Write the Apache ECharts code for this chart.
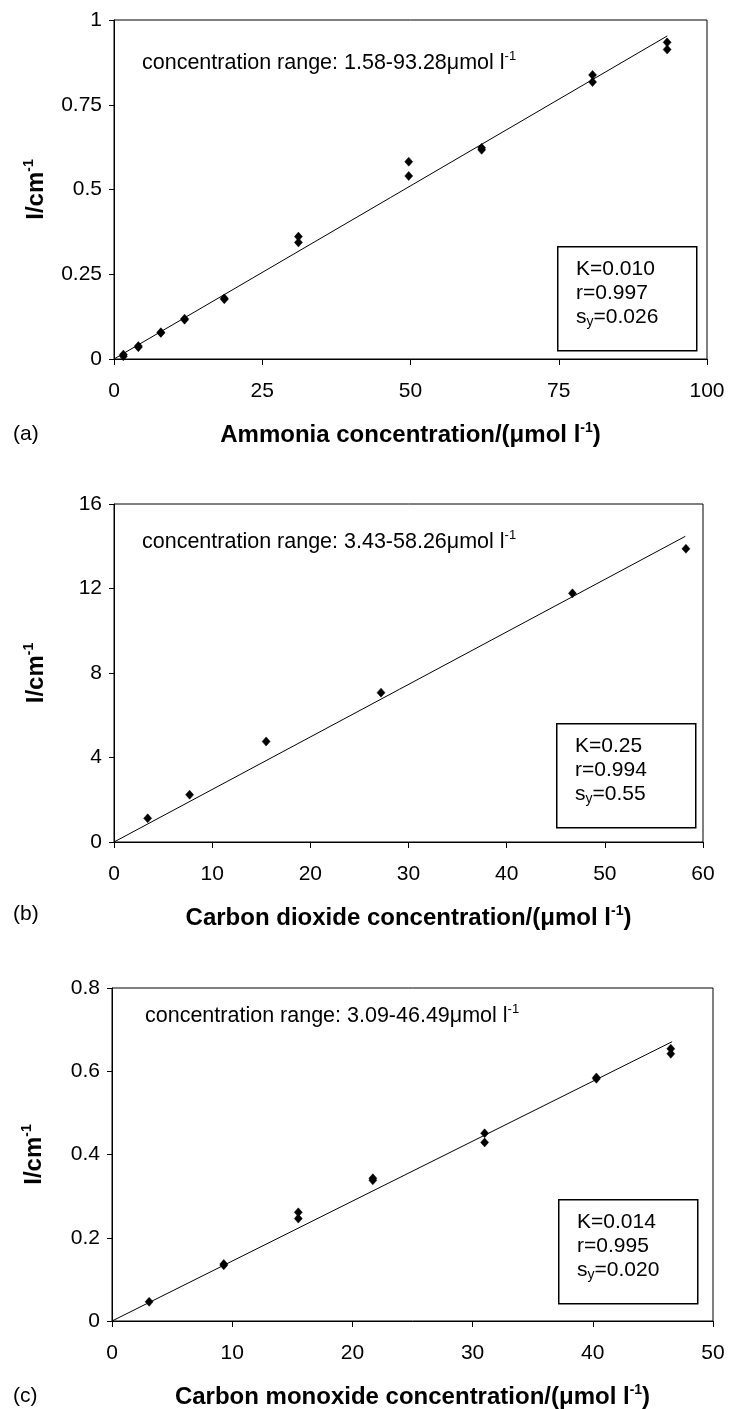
<!DOCTYPE html>
<html><head><meta charset="utf-8">
<script src="https://cdn.jsdelivr.net/npm/echarts/dist/echarts.min.js"></script>
<style>html,body{margin:0;padding:0;background:#fff}#c{width:729px;height:1409px}</style>
</head><body><div id="c"></div>
<script>
// ---------- data ----------
// (a) Ammonia
var ammoniaX = [1.58, 1.58, 4.1, 4.1, 7.9, 7.9, 11.9, 11.9, 18.6, 18.6, 31.1, 31.1, 49.7, 49.7, 62.0, 62.0, 80.7, 80.7, 93.28, 93.28];
var ammoniaY = [0.008, 0.013, 0.035, 0.038, 0.077, 0.079, 0.116, 0.119, 0.176, 0.179, 0.344, 0.361, 0.540, 0.582, 0.617, 0.623, 0.817, 0.838, 0.913, 0.934];
var ammoniaFitX = [0, 93.3];
var ammoniaFitY = [0, 0.953];
// (b) Carbon dioxide
var co2X = [3.43, 7.7, 15.5, 27.2, 46.7, 58.26];
var co2Y = [1.12, 2.24, 4.76, 7.07, 11.77, 13.88];
var co2FitX = [0, 58.2];
var co2FitY = [0, 14.47];
// (c) Carbon monoxide
var coX = [3.09, 9.3, 9.3, 15.5, 15.5, 21.7, 21.7, 31.0, 31.0, 40.3, 40.3, 46.49, 46.49];
var coY = [0.046, 0.134, 0.137, 0.246, 0.261, 0.338, 0.343, 0.429, 0.451, 0.582, 0.585, 0.642, 0.654];
var coFitX = [0, 46.6];
var coFitY = [0, 0.671];

// axis ranges / ticks
var xRanges = [[0, 100, 25], [0, 60, 10], [0, 50, 10]];
var yRanges = [[0, 1, 0.25], [0, 16, 4], [0, 0.8, 0.2]];

// texts
var panelLetters = ['(a)', '(b)', '(c)'];
var xNames = ['Ammonia concentration/(\u03bcmol l', 'Carbon dioxide concentration/(\u03bcmol l', 'Carbon monoxide concentration/(\u03bcmol l'];
var rangeTexts = ['concentration range: 1.58-93.28\u03bcmol l', 'concentration range: 3.43-58.26\u03bcmol l', 'concentration range: 3.09-46.49\u03bcmol l'];
var kTexts = ['K=0.010', 'K=0.25', 'K=0.014'];
var rTexts = ['r=0.997', 'r=0.994', 'r=0.995'];
var sTexts = ['=0.026', '=0.55', '=0.020'];

// ---------- build ----------
var FONT = '"Liberation Sans", Arial, Helvetica, sans-serif';
var grids = [
  {left: 114, top: 20, width: 593, height: 339},
  {left: 114, top: 504, width: 589, height: 338},
  {left: 112, top: 988, width: 601, height: 333}
];
var boxes = [
  {x: 557, y: 246, w: 139, h: 104},
  {x: 556, y: 723, w: 139, h: 104},
  {x: 558, y: 1199, w: 139, h: 104}
];
var rangePos = [[142, 63], [142, 542], [145, 1016]];

function zip(a, b) { return a.map(function (v, i) { return [v, b[i]]; }); }
function fmt(v) { return String(+v.toFixed(2)); }

var scatterSets = [zip(ammoniaX, ammoniaY), zip(co2X, co2Y), zip(coX, coY)];
var fitSets = [zip(ammoniaFitX, ammoniaFitY), zip(co2FitX, co2FitY), zip(coFitX, coFitY)];

var xAxes = [], yAxes = [], series = [], graphics = [];
for (var i = 0; i < 3; i++) {
  grids[i].show = true;
  grids[i].borderColor = '#000';
  grids[i].borderWidth = 1;
  grids[i].containLabel = false;
  grids[i].outerBoundsMode = 'none';
  xAxes.push({
    type: 'value', gridIndex: i,
    min: xRanges[i][0], max: xRanges[i][1], interval: xRanges[i][2],
    splitLine: {show: false},
    axisLine: {show: true, onZero: false, lineStyle: {color: '#000', width: 1}},
    axisTick: {show: true, length: 6, inside: false, lineStyle: {color: '#000'}},
    axisLabel: {color: '#000', fontSize: 21, fontFamily: FONT, margin: 22, formatter: fmt, showMinLabel: true, showMaxLabel: true},
    name: '{b|' + xNames[i] + '}{sup|-1}{b|)}',
    nameLocation: 'middle', nameGap: 62,
    nameTextStyle: {
      rich: {
        b: {fontSize: 24, fontWeight: 'bold', fontFamily: FONT, color: '#000', lineHeight: 28},
        sup: {fontSize: 14, fontWeight: 'bold', fontFamily: FONT, color: '#000', verticalAlign: 'top', lineHeight: 14}
      }
    }
  });
  yAxes.push({
    type: 'value', gridIndex: i,
    min: yRanges[i][0], max: yRanges[i][1], interval: yRanges[i][2],
    splitLine: {show: false},
    axisLine: {show: true, onZero: false, lineStyle: {color: '#000', width: 1}},
    axisTick: {show: true, length: 5, inside: false, lineStyle: {color: '#000'}},
    axisLabel: {color: '#000', fontSize: 21, fontFamily: FONT, margin: 12, formatter: fmt, showMinLabel: true, showMaxLabel: true},
    name: '{b|I/cm}{sup|-1}',
    nameLocation: 'middle', nameRotate: 90, nameGap: 64,
    nameTextStyle: {
      rich: {
        b: {fontSize: 24, fontWeight: 'bold', fontFamily: FONT, color: '#000', lineHeight: 28},
        sup: {fontSize: 14, fontWeight: 'bold', fontFamily: FONT, color: '#000', verticalAlign: 'top', lineHeight: 14}
      }
    }
  });
  series.push({
    type: 'line', xAxisIndex: i, yAxisIndex: i, data: fitSets[i],
    showSymbol: false, symbol: 'none', silent: true,
    lineStyle: {color: '#000', width: 1}, z: 2
  });
  series.push({
    type: 'scatter', xAxisIndex: i, yAxisIndex: i, data: scatterSets[i],
    symbol: 'diamond', symbolSize: [8, 9],
    itemStyle: {color: '#000', borderColor: '#000', borderWidth: 0.5, opacity: 1}, z: 3
  });
  // annotations
  graphics.push({
    type: 'text', left: rangePos[i][0], top: rangePos[i][1] - 13,
    style: {
      text: '{n|' + rangeTexts[i] + '}{sup|-1}',
      rich: {
        n: {fontSize: 21.5, fontFamily: FONT, fill: '#000', lineHeight: 26},
        sup: {fontSize: 13, fontFamily: FONT, fill: '#000', verticalAlign: 'top', lineHeight: 13}
      }
    }
  });
  graphics.push({
    type: 'rect', left: boxes[i].x, top: boxes[i].y,
    shape: {width: boxes[i].w, height: boxes[i].h},
    style: {fill: '#fff', stroke: '#000', lineWidth: 1.5}, z: 10
  });
  graphics.push({
    type: 'text', left: boxes[i].x + 19, top: boxes[i].y + 13,
    z: 11,
    style: {
      text: '{n|' + kTexts[i] + '}\n{n|' + rTexts[i] + '}\n{n|s}{sub|y}{n|' + sTexts[i] + '}',
      rich: {
        n: {fontSize: 21, fontFamily: FONT, fill: '#000', lineHeight: 24},
        sub: {fontSize: 14, fontFamily: FONT, fill: '#000', verticalAlign: 'bottom', lineHeight: 18}
      }
    }
  });
  var letterY = [435, 915, 1397][i];
  graphics.push({
    type: 'text', left: 13, top: letterY - 11,
    style: {text: panelLetters[i], fontSize: 21, fontFamily: FONT, fill: '#000'}
  });
}

var chart = echarts.init(document.getElementById('c'), null, {renderer: 'canvas'});
chart.setOption({
  backgroundColor: '#fff',
  animation: false,
  grid: grids,
  xAxis: xAxes,
  yAxis: yAxes,
  series: series,
  graphic: graphics
});
</script></body></html>
